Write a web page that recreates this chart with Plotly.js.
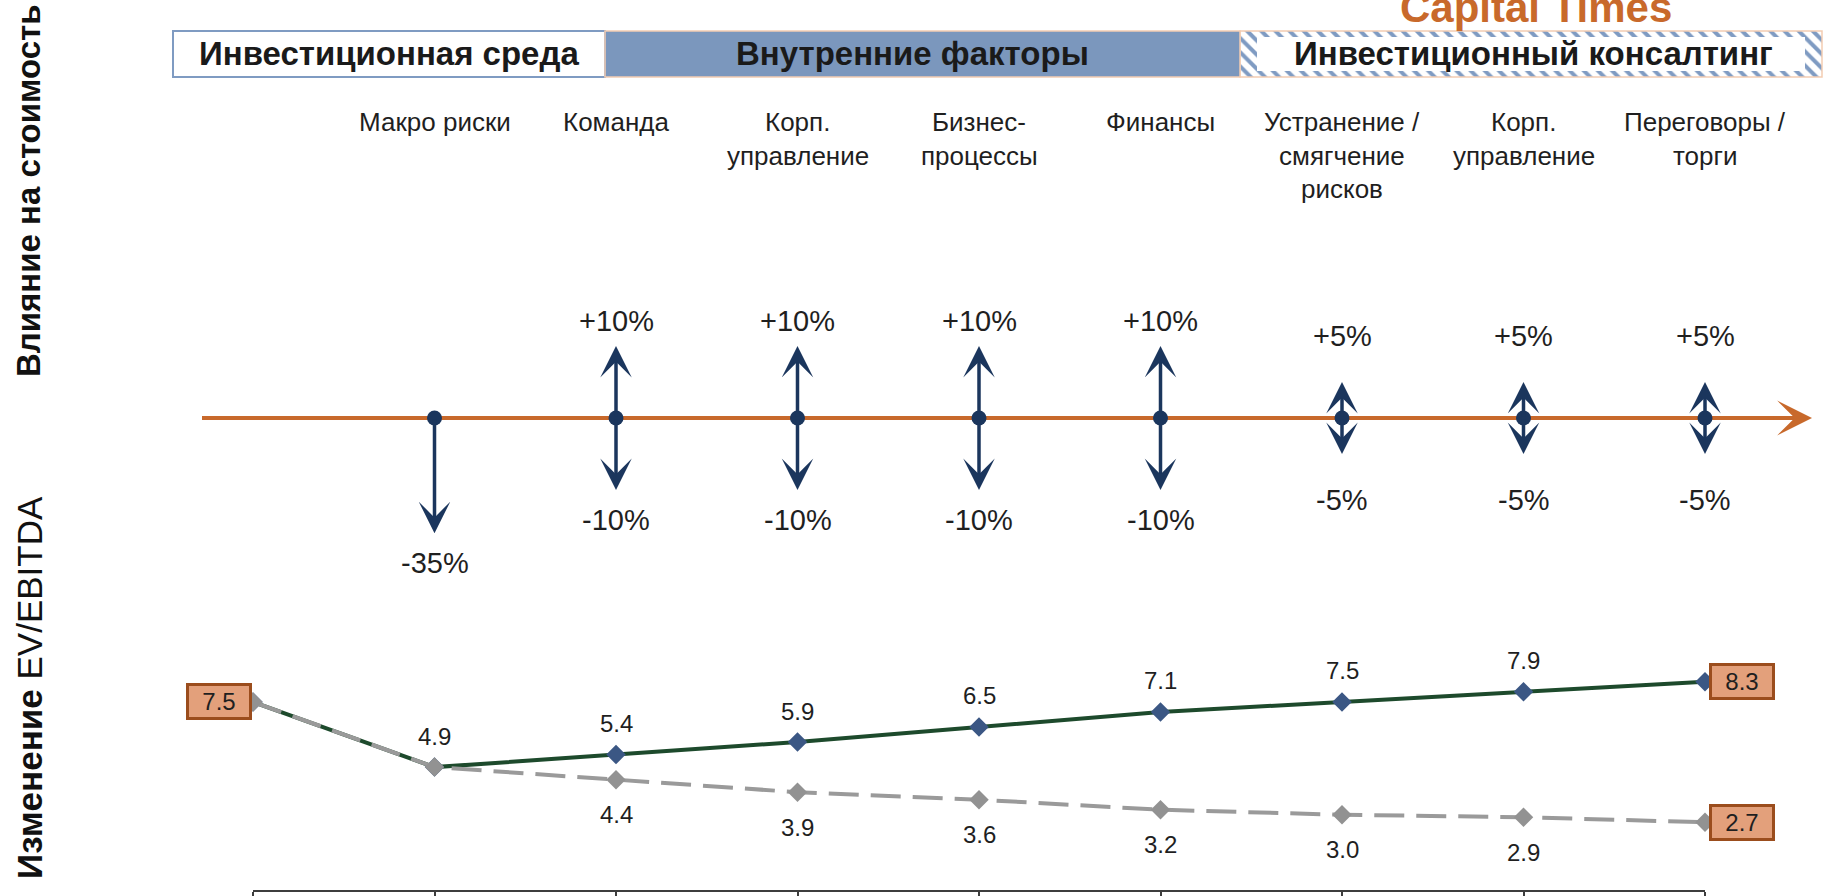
<!DOCTYPE html>
<html><head><meta charset="utf-8">
<script src="https://cdn.plot.ly/plotly-3.0.1.min.js"></script>
<style>html,body{margin:0;padding:0;background:#fff;overflow:hidden;} #chart{width:1829px;height:896px;}</style>
</head><body><div id="chart"></div>
<script>
// ---------- data ----------
const categories = ['Макро риски', 'Команда', 'Корп.<br>управление', 'Бизнес-<br>процессы', 'Финансы',
  'Устранение /<br>смягчение<br>рисков', 'Корп.<br>управление', 'Переговоры /<br>торги'];
const groups = ['Инвестиционная среда', 'Внутренние факторы', 'Инвестиционный консалтинг'];
const impactUp = [null, 10, 10, 10, 10, 5, 5, 5];
const impactDown = [-35, -10, -10, -10, -10, -5, -5, -5];
const evPositive = [7.5, 4.9, 5.4, 5.9, 6.5, 7.1, 7.5, 7.9, 8.3];
const evNegative = [7.5, 4.9, 4.4, 3.9, 3.6, 3.2, 3.0, 2.9, 2.7];
const yTitleTop = 'Влияние на стоимость';
const yTitleBottom = 'Изменение EV/EBITDA';
const brand = 'Capital Times';

// ---------- layout helpers ----------
const W = 1829, H = 896;
const px = x => x / W;
const py = y => 1 - y / H;
const FONT = 'Liberation Sans, Arial, Helvetica, sans-serif';
const NAVY = '#1b365d', ORANGE = '#c8692b', GREEN = '#1d4a2c', GRAY = '#9a9a9a';
const TXT = '#1f1f1f';
const PX_PER_PCT = 7.2;
const disp = v => Math.sign(v) * Math.min(Math.abs(v), 16);
const labelPos = v => v > 0
  ? Math.max(disp(v) + 25 / PX_PER_PCT, 82 / PX_PER_PCT)
  : -Math.max(-disp(v) + 30 / PX_PER_PCT, 82 / PX_PER_PCT);
const fmtPct = v => (v > 0 ? '+' : '') + v + '%';

const xIdx = evPositive.map((_, i) => i);
const catIdx = categories.map((_, i) => i + 1);

const traces = [];
// header hatched box (decorative, pixel axes)
traces.push({
  type: 'bar', orientation: 'h', xaxis: 'x3', yaxis: 'y3',
  y: [54], width: [46], base: [1240], x: [1822 - 1240],
  marker: { color: '#ffffff', line: { color: '#f3cdb2', width: 1.5 },
    pattern: { shape: '\\', fgcolor: '#7f9bc2', bgcolor: '#ffffff', size: 10, solidity: 0.4 } },
  hoverinfo: 'skip', showlegend: false
});
// dots on the impact axis
traces.push({
  type: 'scatter', mode: 'markers', xaxis: 'x', yaxis: 'y2',
  x: catIdx, y: categories.map(() => 0),
  marker: { symbol: 'circle', size: 15, color: NAVY },
  cliponaxis: false, hoverinfo: 'skip', showlegend: false
});
// EV/EBITDA lines
traces.push({
  type: 'scatter', mode: 'lines+markers', xaxis: 'x', yaxis: 'y',
  x: xIdx, y: evPositive,
  line: { color: GREEN, width: 4 },
  marker: { symbol: 'diamond', size: 15, color: '#3b5784' },
  cliponaxis: false, hoverinfo: 'skip', showlegend: false
});
traces.push({
  type: 'scatter', mode: 'lines+markers', xaxis: 'x', yaxis: 'y',
  x: xIdx, y: evNegative,
  line: { color: GRAY, width: 4, dash: '30px,12px' },
  marker: { symbol: 'diamond', size: 15, color: '#929292' },
  cliponaxis: false, hoverinfo: 'skip', showlegend: false
});

const shapes = [
  { type: 'rect', xref: 'paper', yref: 'paper', x0: px(173), x1: px(605), y0: py(77), y1: py(31),
    fillcolor: '#ffffff', line: { color: '#7f9bc2', width: 2 }, layer: 'above' },
  { type: 'rect', xref: 'paper', yref: 'paper', x0: px(605), x1: px(1240), y0: py(77), y1: py(31),
    fillcolor: '#7b97bd', line: { color: '#f3cdb2', width: 1.5 }, layer: 'above' },
  { type: 'rect', xref: 'paper', yref: 'paper', x0: px(1257), x1: px(1805), y0: py(71), y1: py(37),
    fillcolor: '#ffffff', line: { width: 0 }, layer: 'above' },
  { type: 'line', xref: 'paper', yref: 'y2', x0: px(202), x1: px(1790), y0: 0, y1: 0,
    line: { color: ORANGE, width: 4 }, layer: 'below' }
];

const ann = [];
const C = { xanchor: 'center', yanchor: 'middle', showarrow: false };
// axis titles
ann.push(Object.assign({ xref: 'paper', yref: 'paper', x: px(29), y: py(191), text: yTitleTop, textangle: -90,
  font: { family: FONT, size: 33, color: '#111', weight: 'bold' } }, C));
const tb = yTitleBottom.split(' ');
ann.push(Object.assign({ xref: 'paper', yref: 'paper', x: px(29), y: py(688),
  text: '<b>' + tb[0] + '</b> ' + tb.slice(1).join(' '),
  textangle: -90, font: { family: FONT, size: 35, color: '#111' } }, C));
// brand
ann.push(Object.assign({ xref: 'paper', yref: 'paper', x: px(1536), y: py(8), text: brand,
  font: { family: FONT, size: 42, color: ORANGE, weight: 'bold' } }, C));
// header texts
const groupCenters = [389, 912, 1533];
groups.forEach((g, i) => ann.push(Object.assign({ xref: 'paper', yref: 'paper', x: px(groupCenters[i]), y: py(54), text: g,
  font: { family: FONT, size: 33, color: '#1a1a1a', weight: 'bold' } }, C)));
// category labels
categories.forEach((c, i) => c.split('<br>').forEach((line, j) => ann.push(Object.assign({
  xref: 'x', yref: 'paper', x: i + 1, y: py(122 + 33.5 * j), text: line,
  font: { family: FONT, size: 26, color: TXT } }, C))));
// impact arrows + labels
const arrowAnn = (i, v) => {
  ann.push({ xref: 'x', yref: 'y2', axref: 'x', ayref: 'y2', x: i + 1, y: disp(v), ax: i + 1, ay: 0,
    text: '', showarrow: true, arrowhead: 3, arrowwidth: 3.5, arrowsize: 1.5, arrowcolor: NAVY });
  ann.push(Object.assign({ xref: 'x', yref: 'y2', x: i + 1, y: labelPos(v), text: fmtPct(v),
    font: { family: FONT, size: 29, color: TXT } }, C));
};
impactUp.forEach((v, i) => { if (v !== null) arrowAnn(i, v); });
impactDown.forEach((v, i) => arrowAnn(i, v));
// orange arrow head
ann.push({ xref: 'paper', yref: 'y2', x: px(1812), y: 0, ax: -40, ay: 0, text: '', showarrow: true,
  arrowhead: 3, arrowwidth: 4, arrowsize: 1.45, arrowcolor: ORANGE });
// value labels
const boxStyle = { bgcolor: '#e3a07b', bordercolor: '#9b4d1d', borderwidth: 3, borderpad: 3, width: 54, height: 25,
  font: { family: FONT, size: 24, color: TXT }, showarrow: false, yanchor: 'middle' };
ann.push(Object.assign({ xref: 'x', yref: 'y', x: 0, y: evPositive[0], text: evPositive[0].toFixed(1),
  xanchor: 'right', xshift: -1 }, boxStyle));
ann.push(Object.assign({ xref: 'x', yref: 'y', x: 8, y: evPositive[8], text: evPositive[8].toFixed(1),
  xanchor: 'left', xshift: 4 }, boxStyle));
ann.push(Object.assign({ xref: 'x', yref: 'y', x: 8, y: evNegative[8], text: evNegative[8].toFixed(1),
  xanchor: 'left', xshift: 4 }, boxStyle));
for (let i = 1; i < 8; i++) {
  ann.push(Object.assign({ xref: 'x', yref: 'y', x: i, y: evPositive[i], yshift: 31, text: evPositive[i].toFixed(1),
    font: { family: FONT, size: 24, color: TXT } }, C));
  if (i >= 2) ann.push(Object.assign({ xref: 'x', yref: 'y', x: i, y: evNegative[i], yshift: -35, text: evNegative[i].toFixed(1),
    font: { family: FONT, size: 24, color: TXT } }, C));
}

const hidden = { visible: false, showgrid: false, zeroline: false, fixedrange: true };
const layout = {
  width: W, height: H, margin: { l: 0, r: 0, t: 0, b: 0, pad: 0 },
  paper_bgcolor: '#ffffff', plot_bgcolor: 'rgba(0,0,0,0)', showlegend: false,
  font: { family: FONT, color: TXT },
  xaxis: { domain: [px(253), px(1705)], range: [0, 8], anchor: 'y', showline: true, linecolor: '#3d3d3d', linewidth: 2,
    ticks: 'outside', tickmode: 'array', tickvals: xIdx, ticklen: 10, tickwidth: 2, tickcolor: '#3d3d3d',
    showticklabels: false, showgrid: false, zeroline: false, fixedrange: true },
  yaxis: Object.assign({ domain: [1 - 890 / H, 1 - 500 / H], range: [0, (890 - 500) / 25.08], anchor: 'x' }, hidden),
  yaxis2: Object.assign({ domain: [1 - 620 / H, 1 - 280 / H], range: [-(620 - 418) / PX_PER_PCT, (418 - 280) / PX_PER_PCT], anchor: 'x' }, hidden),
  xaxis3: Object.assign({ domain: [0, 1], range: [0, W], anchor: 'y3' }, hidden),
  yaxis3: Object.assign({ domain: [0, 1], range: [H, 0], anchor: 'x3' }, hidden),
  shapes: shapes, annotations: ann, bargap: 0
};
Plotly.newPlot('chart', traces, layout, { staticPlot: true, displayModeBar: false });
</script>
</body></html>
